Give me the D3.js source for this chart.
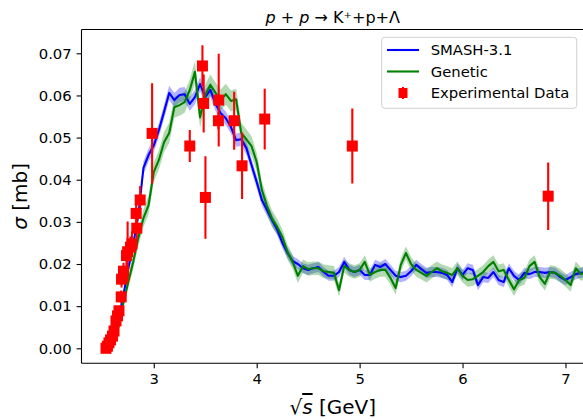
<!DOCTYPE html>
<html><head><meta charset="utf-8">
<script src="https://cdn.jsdelivr.net/npm/d3@7"></script>
<style>body{margin:0;background:#fff}svg{display:block;font-family:"DejaVu Sans",sans-serif}</style>
</head><body><svg id="c" width="583" height="419"></svg>
<script>
const energies = [2.55,2.60,2.65,2.70,2.75,2.80,2.85,2.90,2.95,3.00,3.05,3.10,3.15,3.20,3.25,3.30,3.35,3.40,3.45,3.50,3.55,3.60,3.65,3.70,3.75,3.80,3.85,3.90,3.95,4.00,4.05,4.10,4.15,4.20,4.25,4.30,4.35,4.40,4.45,4.50,4.55,4.60,4.65,4.70,4.75,4.80,4.85,4.90,4.95,5.00,5.05,5.10,5.15,5.20,5.25,5.30,5.35,5.40,5.45,5.50,5.55,5.60,5.65,5.70,5.75,5.80,5.85,5.90,5.95,6.00,6.05,6.10,6.15,6.20,6.25,6.30,6.35,6.40,6.45,6.50,6.55,6.60,6.65,6.70,6.75,6.80,6.85,6.90,6.95,7.00,7.05,7.10,7.15,7.20];
const smash = [0.0000,0.0015,0.0062,0.0119,0.0186,0.0245,0.0316,0.0428,0.0459,0.0481,0.0518,0.0561,0.0606,0.0589,0.0601,0.0603,0.0580,0.0596,0.0627,0.0596,0.0613,0.0580,0.0558,0.0546,0.0525,0.0494,0.0496,0.0475,0.0435,0.0395,0.0352,0.0328,0.0304,0.0281,0.0250,0.0226,0.0207,0.0200,0.0190,0.0186,0.0190,0.0193,0.0181,0.0172,0.0172,0.0181,0.0205,0.0186,0.0181,0.0186,0.0174,0.0174,0.0198,0.0193,0.0200,0.0186,0.0172,0.0169,0.0172,0.0183,0.0198,0.0188,0.0179,0.0181,0.0181,0.0179,0.0174,0.0157,0.0190,0.0174,0.0190,0.0186,0.0150,0.0169,0.0167,0.0181,0.0162,0.0157,0.0190,0.0172,0.0162,0.0179,0.0176,0.0181,0.0181,0.0179,0.0181,0.0179,0.0169,0.0162,0.0169,0.0176,0.0179,0.0181];
const smashErr = [0.0002,0.0005,0.0008,0.0011,0.0012,0.0013,0.0014,0.0015,0.0016,0.0016,0.0016,0.0017,0.0017,0.0017,0.0017,0.0017,0.0017,0.0017,0.0017,0.0017,0.0017,0.0017,0.0017,0.0016,0.0016,0.0016,0.0016,0.0015,0.0015,0.0015,0.0014,0.0014,0.0014,0.0013,0.0013,0.0013,0.0012,0.0012,0.0012,0.0012,0.0012,0.0012,0.0012,0.0012,0.0012,0.0012,0.0012,0.0012,0.0012,0.0012,0.0012,0.0012,0.0012,0.0012,0.0012,0.0012,0.0012,0.0012,0.0012,0.0012,0.0012,0.0012,0.0012,0.0012,0.0012,0.0012,0.0012,0.0012,0.0012,0.0012,0.0012,0.0012,0.0012,0.0012,0.0012,0.0012,0.0012,0.0012,0.0012,0.0012,0.0012,0.0012,0.0012,0.0012,0.0012,0.0012,0.0012,0.0012,0.0012,0.0012,0.0012,0.0012,0.0012,0.0012];
const genetic = [0.0000,0.0010,0.0043,0.0103,0.0155,0.0205,0.0262,0.0309,0.0340,0.0418,0.0447,0.0489,0.0511,0.0572,0.0577,0.0584,0.0613,0.0656,0.0548,0.0601,0.0625,0.0606,0.0589,0.0603,0.0587,0.0591,0.0511,0.0496,0.0480,0.0442,0.0376,0.0338,0.0307,0.0288,0.0264,0.0228,0.0205,0.0172,0.0195,0.0188,0.0190,0.0190,0.0183,0.0181,0.0179,0.0138,0.0195,0.0186,0.0181,0.0186,0.0205,0.0174,0.0181,0.0186,0.0186,0.0167,0.0143,0.0198,0.0226,0.0200,0.0186,0.0179,0.0172,0.0181,0.0190,0.0183,0.0179,0.0174,0.0190,0.0172,0.0162,0.0164,0.0172,0.0181,0.0195,0.0205,0.0183,0.0186,0.0162,0.0140,0.0162,0.0167,0.0195,0.0205,0.0169,0.0153,0.0181,0.0179,0.0172,0.0162,0.0150,0.0190,0.0176,0.0181];
const geneticErr = [0.0003,0.0006,0.0010,0.0013,0.0016,0.0018,0.0020,0.0021,0.0022,0.0023,0.0023,0.0024,0.0024,0.0025,0.0025,0.0025,0.0025,0.0026,0.0025,0.0025,0.0025,0.0025,0.0025,0.0025,0.0025,0.0025,0.0024,0.0024,0.0023,0.0022,0.0021,0.0020,0.0020,0.0019,0.0018,0.0018,0.0017,0.0017,0.0016,0.0016,0.0016,0.0016,0.0016,0.0016,0.0016,0.0016,0.0016,0.0016,0.0016,0.0016,0.0016,0.0016,0.0016,0.0016,0.0016,0.0016,0.0016,0.0016,0.0016,0.0016,0.0016,0.0016,0.0016,0.0016,0.0016,0.0016,0.0016,0.0016,0.0016,0.0016,0.0016,0.0016,0.0016,0.0016,0.0016,0.0016,0.0016,0.0016,0.0016,0.0016,0.0016,0.0016,0.0016,0.0016,0.0016,0.0016,0.0016,0.0016,0.0016,0.0016,0.0016,0.0016,0.0016,0.0016];
const expX = [2.536,2.550,2.565,2.580,2.599,2.614,2.633,2.648,2.662,2.684,2.687,2.706,2.735,2.746,2.774,2.788,2.829,2.835,2.868,2.984,3.350,3.473,3.485,3.502,3.631,3.628,3.781,3.858,4.078,4.929,6.832];
const expY = [0.0000,0.0005,0.0013,0.0020,0.0029,0.0041,0.0065,0.0077,0.0089,0.0122,0.0164,0.0183,0.0220,0.0229,0.0240,0.0248,0.0320,0.0285,0.0352,0.0510,0.0480,0.0670,0.0581,0.0358,0.0589,0.0540,0.0540,0.0433,0.0544,0.0480,0.0361];
const expErr = [0.0003,0.0003,0.0004,0.0005,0.0006,0.0008,0.0010,0.0012,0.0012,0.0015,0.0020,0.0020,0.0025,0.0072,0.0025,0.0030,0.0030,0.0025,0.0033,0.0119,0.0038,0.0049,0.0069,0.0098,0.0110,0.0020,0.0069,0.0079,0.0072,0.0089,0.0080];
const xTicks = [3,4,5,6,7];
const yTicks = [0.00,0.01,0.02,0.03,0.04,0.05,0.06,0.07];
const legendLabels = ["SMASH-3.1","Genetic","Experimental Data"];

const svg = d3.select("#c");
const L = 81.5, R = 584, T = 29.5, B = 363.3;
const x = d3.scaleLinear().domain([2.298, 7.18]).range([L, R]);
const y = d3.scaleLinear().domain([-0.00356, 0.07565]).range([B, T]);

svg.append("defs").append("clipPath").attr("id","clip").append("rect")
  .attr("x",L).attr("y",T).attr("width",R-L).attr("height",B-T);
const plot = svg.append("g").attr("clip-path","url(#clip)");

const series = [
  {v: smash, e: smashErr, c: "#0000ff"},
  {v: genetic, e: geneticErr, c: "#008000"}
];
series.forEach(s => {
  const pts = energies.map((en,i) => ({x: en, y: s.v[i], e: s.e[i]}));
  plot.append("path").datum(pts)
    .attr("d", d3.area().x(d => x(d.x)).y0(d => y(d.y - d.e)).y1(d => y(d.y + d.e)))
    .attr("fill", s.c).attr("fill-opacity", 0.3).attr("stroke","none");
});
series.forEach(s => {
  const pts = energies.map((en,i) => ({x: en, y: s.v[i]}));
  plot.append("path").datum(pts)
    .attr("d", d3.line().x(d => x(d.x)).y(d => y(d.y)))
    .attr("fill","none").attr("stroke", s.c).attr("stroke-width", 2.1)
    .attr("stroke-linejoin","round");
});

const exp = expX.map((v,i) => ({x: v, y: expY[i], e: expErr[i]}));
plot.selectAll("line.eb").data(exp).enter().append("line")
  .attr("x1", d => x(d.x)).attr("x2", d => x(d.x))
  .attr("y1", d => y(d.y - d.e)).attr("y2", d => y(d.y + d.e))
  .attr("stroke","#ff0000").attr("stroke-width", 2.1);
plot.selectAll("rect.m").data(exp).enter().append("rect")
  .attr("x", d => x(d.x) - 5.5).attr("y", d => y(d.y) - 5.5)
  .attr("width", 11).attr("height", 11).attr("fill","#ff0000");

// axes
const xa = svg.append("g").attr("transform",`translate(0,${B})`)
  .call(d3.axisBottom(x).tickValues(xTicks).tickFormat(d3.format("d")).tickSize(4.9).tickPadding(4.9));
const ya = svg.append("g").attr("transform",`translate(${L},0)`)
  .call(d3.axisLeft(y).tickValues(yTicks).tickFormat(d3.format(".2f")).tickSize(4.9).tickPadding(4.9));
[xa, ya].forEach(a => {
  a.select(".domain").remove();
  a.selectAll("text").attr("font-size","14.8px").attr("font-family","DejaVu Sans").attr("fill","#000");
  a.selectAll("line").attr("stroke","#000").attr("stroke-width",1.1);
});
// spines
const sp = svg.append("g").attr("stroke","#000").attr("stroke-width",1.1);
sp.append("line").attr("x1",L).attr("x2",L).attr("y1",T).attr("y2",B);
sp.append("line").attr("x1",L).attr("x2",R).attr("y1",B).attr("y2",B);
sp.append("line").attr("x1",L).attr("x2",R).attr("y1",T).attr("y2",T);
sp.append("line").attr("x1",R).attr("x2",R).attr("y1",T).attr("y2",B);

// title
const cx = (L + R) / 2;
const title = svg.append("text").attr("x", cx).attr("y", 22.5).attr("text-anchor","middle")
  .attr("font-size","16px").attr("fill","#000");
title.append("tspan").attr("font-style","italic").text("p");
title.append("tspan").text(" + ");
title.append("tspan").attr("font-style","italic").text("p");
title.append("tspan").text(" \u2192 K\u207A+p+\u039B");

// axis labels
const xl = svg.append("text").attr("x", cx).attr("y", 414).attr("text-anchor","middle")
  .attr("font-size","20px").attr("fill","#000");
xl.append("tspan").text("\u221A");
xl.append("tspan").attr("font-style","italic").attr("text-decoration","overline").text("s");
xl.append("tspan").text(" [GeV]");
const yl = svg.append("text").attr("transform",`translate(27,${(T+B)/2}) rotate(-90)`)
  .attr("text-anchor","middle").attr("font-size","20px").attr("fill","#000");
yl.append("tspan").attr("font-style","italic").text("\u03C3");
yl.append("tspan").text(" [mb]");

// legend
const lg = svg.append("g");
lg.append("rect").attr("x",381.7).attr("y",37.3).attr("width",195).attr("height",71)
  .attr("rx",3).attr("fill","#fff").attr("fill-opacity",0.8).attr("stroke","#d0d0d0").attr("stroke-width",1);
const rows = [50, 71.5, 93];
[0,1].forEach(i => {
  lg.append("line").attr("x1",387).attr("x2",419).attr("y1",rows[i]).attr("y2",rows[i])
    .attr("stroke", series[i].c).attr("stroke-width",2.1);
});
lg.append("line").attr("x1",403).attr("x2",403).attr("y1",rows[2]-6).attr("y2",rows[2]+6)
  .attr("stroke","#ff0000").attr("stroke-width",2.1);
lg.append("rect").attr("x",398.5).attr("y",rows[2]-5).attr("width",9).attr("height",10).attr("fill","#ff0000");
legendLabels.forEach((t,i) => {
  lg.append("text").attr("x",430.7).attr("y",rows[i]+5.3).attr("font-size","14.8px").attr("fill","#000").text(t);
});
</script></body></html>
